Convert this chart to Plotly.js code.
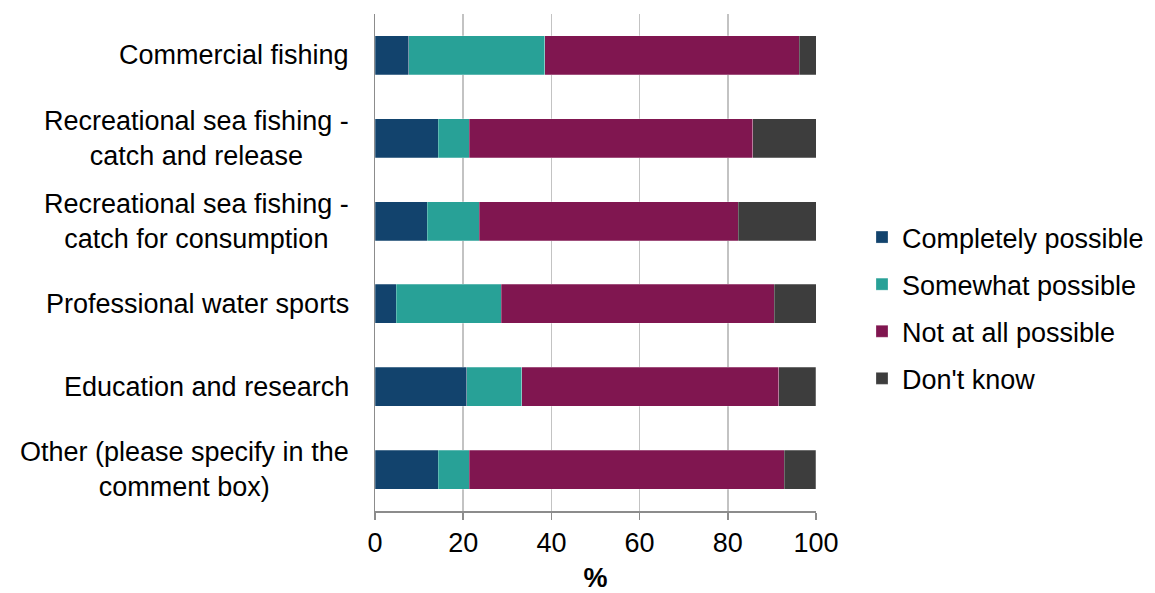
<!DOCTYPE html>
<html>
<head>
<meta charset="utf-8">
<script src="https://cdn.plot.ly/plotly-3.0.1.min.js"></script>
<style>html,body{margin:0;padding:0;background:#fff;}#chart{width:1155px;height:593px;}</style>
</head>
<body>
<div id="chart"></div>
<script>
const categories = [
  "Commercial fishing",
  "Recreational sea fishing -<br>catch and release",
  "Recreational sea fishing -<br>catch for consumption",
  "Professional water sports",
  "Education and research",
  "Other (please specify in the<br>comment box)"
];
const seriesNames = ["Completely possible", "Somewhat possible", "Not at all possible", "Don't know"];
const completelyPossible = [7.7, 14.3, 11.8, 4.8, 20.8, 14.3];
const somewhatPossible   = [30.8, 7.1, 11.8, 23.8, 12.5, 7.1];
const notAtAllPossible   = [57.7, 64.3, 58.8, 61.9, 58.3, 71.4];
const dontKnow           = [3.8, 14.3, 17.6, 9.5, 8.3, 7.1];
const xTickValues = [0, 20, 40, 60, 80, 100];
const colors = ["#12436D", "#28A197", "#801650", "#3D3D3D"];

const seriesValues = [completelyPossible, somewhatPossible, notAtAllPossible, dontKnow];
const font = "Liberation Sans, Arial, sans-serif";

const traces = seriesValues.map((vals, i) => ({
  type: "bar",
  orientation: "h",
  name: seriesNames[i],
  x: vals,
  y: categories,
  legendgroup: "g" + i,
  marker: { color: colors[i], line: { color: "rgba(255,255,255,0.5)", width: 0.5 } },
  hoverinfo: "x+name"
}));

const annotations = categories.map(c => ({
  xref: "paper", yref: "y",
  x: 0, y: c,
  xshift: -24,
  xanchor: "right", yanchor: "middle",
  align: "center",
  text: c,
  showarrow: false,
  font: { family: font, size: 27, color: "#000" }
}));

const layout = {
  width: 1155, height: 593,
  margin: { l: 375, r: 339, t: 14, b: 82, pad: 0, autoexpand: false },
  barmode: "stack",
  bargap: 0.53,
  paper_bgcolor: "#fff",
  plot_bgcolor: "#fff",
  font: { family: font, size: 27, color: "#000" },
  xaxis: {
    range: [0, 100],
    tickvals: xTickValues,
    ticktext: xTickValues.map(String),
    showgrid: true,
    gridcolor: "#c3c3c3",
    gridwidth: 1.5,
    zeroline: false,
    showline: true,
    linecolor: "#8c8c8c",
    linewidth: 1.5,
    ticks: "outside",
    ticklen: 7,
    tickwidth: 1.5,
    tickcolor: "#8c8c8c",
    tickfont: { family: font, size: 27, color: "#000" },
    title: { text: "<b>%</b>", font: { family: font, size: 27, color: "#000" }, standoff: 23 },
    automargin: false,
    fixedrange: true
  },
  yaxis: {
    autorange: "reversed",
    showticklabels: false,
    showgrid: false,
    zeroline: false,
    showline: true,
    linecolor: "#8c8c8c",
    linewidth: 1.5,
    ticks: "",
    automargin: false,
    fixedrange: true
  },
  legend: {
    xref: "container", yref: "container",
    x: 862 / 1155, xanchor: "left",
    y: 1 - 308 / 593, yanchor: "middle",
    traceorder: "grouped",
    tracegroupgap: 9,
    font: { family: font, size: 27, color: "#000" },
    itemwidth: 30,
    bgcolor: "rgba(0,0,0,0)"
  },
  annotations: annotations,
  showlegend: true
};

Plotly.newPlot("chart", traces, layout, { displayModeBar: false, staticPlot: true });
</script>
</body>
</html>
